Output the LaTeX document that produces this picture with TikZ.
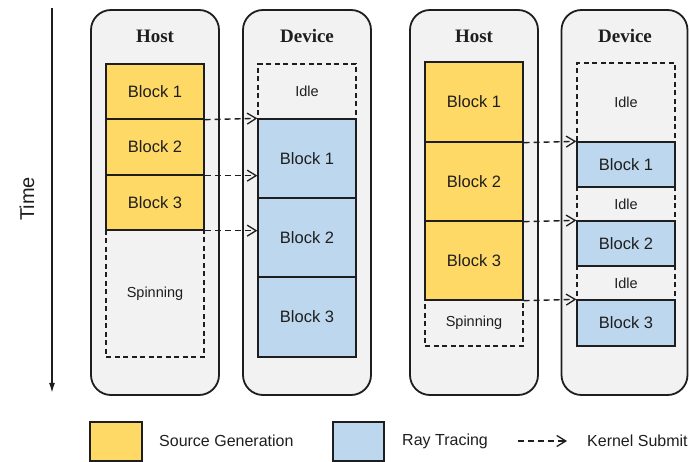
\documentclass[tikz,border=0pt]{standalone}
\usepackage{fontspec}
\setmainfont{Liberation Sans}
\newfontfamily\titlefont{Liberation Serif}
\usetikzlibrary{arrows.meta}

\definecolor{srcgen}{HTML}{FFD966}
\definecolor{raytr}{HTML}{BDD7EE}
\definecolor{panelbg}{HTML}{F2F2F2}
\definecolor{ink}{HTML}{1E1E1E}

\tikzset{
  panel/.style={draw=ink, line width=1.8pt, fill=panelbg, rounded corners=20pt,
    minimum width=128pt, minimum height=385pt, inner sep=0pt},
  paneltitle/.style={font=\titlefont\bfseries\fontsize{19}{21}\selectfont, text=ink},
  hblock/.style={draw=ink, line width=1.3pt, fill=srcgen, minimum width=98pt,
    inner sep=0pt, font=\fontsize{16.5}{18}\selectfont, text=ink},
  dblock/.style={draw=ink, line width=1.3pt, fill=raytr, minimum width=98pt,
    inner sep=0pt, font=\fontsize{16.5}{18}\selectfont, text=ink},
  waitbox/.style={draw=ink, line width=1.3pt, dash pattern=on 5pt off 3.5pt, minimum width=98pt,
    inner sep=0pt, font=\fontsize{14.5}{16}\selectfont, text=ink},
  submit/.style={draw=ink, line width=1.4pt, dash pattern=on 6pt off 4pt,
    -{Straight Barb[length=9pt,width=11pt,line width=1.3pt]}},
  legendtext/.style={anchor=west, inner sep=0pt, font=\fontsize{16}{18}\selectfont, text=ink},
  legendbox/.style={draw=ink, line width=1.3pt, minimum width=52pt, minimum height=39pt, inner sep=0pt},
}

\begin{document}
\begin{tikzpicture}[x=1pt, y=-1pt]
\useasboundingbox (0,0) rectangle (689,462);

% time axis
\coordinate (t0) at (52,8);
\coordinate (t1) at (52,393);
\draw[ink, line width=1.6pt, -{Latex[length=10pt,width=6pt]}] (t0) -- (t1);
\node[rotate=90, font=\fontsize{20}{22}\selectfont, text=ink] (tlabel) at (27,199) {Time};

% ---- left scenario: sequential ----
\node[panel] (hostA) at (155,202.5) {};
\node[panel] (devA) at (307,202.5) {};
\node[paneltitle] (hostAt) at (155,36) {Host};
\node[paneltitle] (devAt) at (307,36) {Device};

\node[hblock, minimum height=55pt] (a1) at (155,91.5) {Block 1};
\node[hblock, minimum height=56pt] (a2) at (155,147) {Block 2};
\node[hblock, minimum height=55pt] (a3) at (155,202.5) {Block 3};
\node[waitbox, minimum height=127pt] (aspin) at (155,293.5) {Spinning};

\node[waitbox, minimum height=55pt] (aidle) at (307,91.5) {Idle};
\node[dblock, minimum height=79pt] (b1) at (307,158.5) {Block 1};
\node[dblock, minimum height=79pt] (b2) at (307,237.5) {Block 2};
\node[dblock, minimum height=80pt] (b3) at (307,317) {Block 3};

\draw[submit] (a1.south east) -- (b1.north west);
\draw[submit] (a2.south east) -- (b1.west |- a2.south east);
\draw[submit] (a3.south east) -- (b2.west |- a3.south east);

% ---- right scenario: overlapped ----
\node[panel] (hostB) at (474,202.5) {};
\node[panel, minimum width=126pt] (devB) at (624.5,202.5) {};
\node[paneltitle] (hostBt) at (474,36) {Host};
\node[paneltitle] (devBt) at (625,36) {Device};

\node[hblock, minimum height=80pt] (c1) at (474,102) {Block 1};
\node[hblock, minimum height=79pt] (c2) at (474,181.5) {Block 2};
\node[hblock, minimum height=79pt] (c3) at (474,260.5) {Block 3};
\node[waitbox, minimum height=46pt] (cspin) at (474,323) {Spinning};

\node[waitbox, minimum height=79pt] (didle1) at (626,102.5) {Idle};
\node[waitbox, minimum height=34pt] (didle2) at (626,204) {Idle};
\node[waitbox, minimum height=34pt] (didle3) at (626,283) {Idle};
\node[dblock, minimum height=45pt] (d1) at (626,164.5) {Block 1};
\node[dblock, minimum height=45pt] (d2) at (626,243.5) {Block 2};
\node[dblock, minimum height=46pt] (d3) at (626,323) {Block 3};

\draw[submit] (c1.south east) -- (d1.north west);
\draw[submit] (c2.south east) -- (d2.north west);
\draw[submit] (c3.south east) -- (d3.north west);

% ---- legend ----
\node[legendbox, fill=srcgen] (lsrc) at (116,441.5) {};
\node[legendtext] (lsrct) at (159,441) {Source Generation};
\node[legendbox, fill=raytr, minimum width=51pt] (lray) at (358.5,441.5) {};
\node[legendtext] (lrayt) at (402,441) {Ray Tracing};
\coordinate (ka) at (518,441);
\coordinate (kb) at (567,441);
\draw[submit] (ka) -- (kb);
\node[legendtext] (lkt) at (587,441) {Kernel Submit};
\end{tikzpicture}
\end{document}
